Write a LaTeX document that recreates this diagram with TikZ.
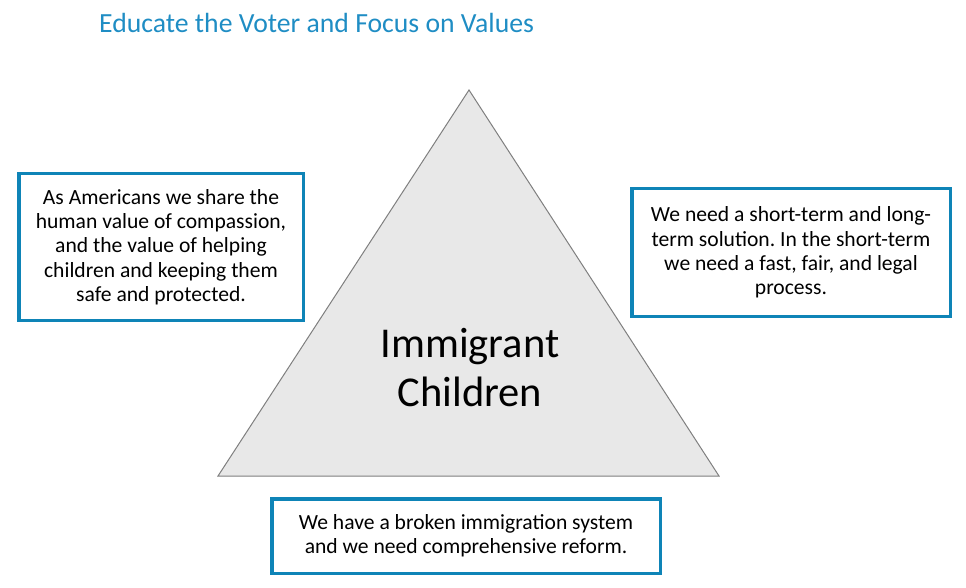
\documentclass[tikz,border=0pt]{standalone}
\usepackage{fontspec}
\setmainfont{Carlito}
\frenchspacing
\definecolor{titleblue}{HTML}{1F8DC4}
\definecolor{boxblue}{HTML}{0E84B7}
\definecolor{trifill}{HTML}{E8E8E8}
\definecolor{trigray}{HTML}{7F7F7F}
\begin{document}
\begin{tikzpicture}[x=1pt,y=-1pt,
  msgbox/.style={draw=boxblue, line width=3.5pt, fill=white, inner sep=0pt, align=center,
    font=\fontsize{21.6}{24.3}\selectfont\frenchspacing, text=black}]
\useasboundingbox (0,0) rectangle (966,588);
\node[anchor=base west, inner sep=0pt, text=titleblue, font=\fontsize{27.7}{34}\selectfont] (title) at (99,33) {Educate the Voter and Focus on Values};
\draw[fill=trifill, draw=trigray, line width=1pt, line join=miter] (469,90) -- (719,476) -- (218,476) -- cycle;
\node[inner sep=0pt, align=center, font=\fontsize{42.5}{48.3}\selectfont] (center) at (470,367.5) {Immigrant\\Children};
\node[msgbox, minimum width=284.5pt, minimum height=146.5pt] (left) at (161,247)
  {As Americans we share the\\human value of compassion,\\and the value of helping\\children and keeping them\\safe and protected.};
\node[msgbox, minimum width=318.5pt, minimum height=127.5pt] (right) at (791,252.5)
  {We need a short-term and long-\\term solution. In the short-term\\we need a fast, fair, and legal\\process.};
\node[msgbox, minimum width=388.5pt, minimum height=74.5pt] (bottom) at (466,536)
  {We have a broken immigration system\\and we need comprehensive reform.};
\end{tikzpicture}
\end{document}
